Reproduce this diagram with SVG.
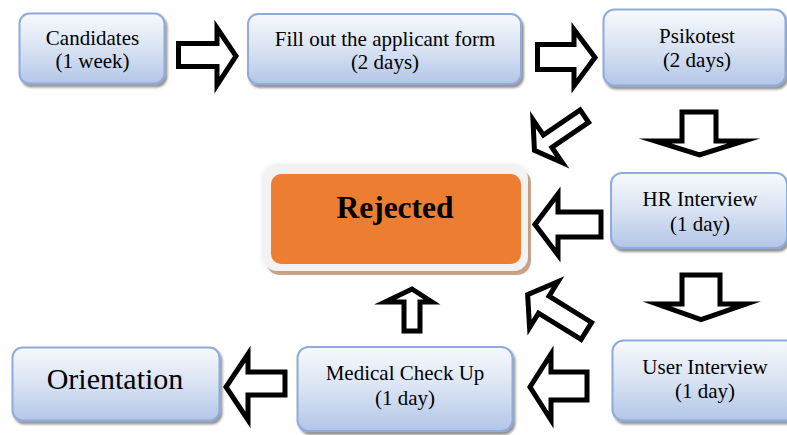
<svg xmlns="http://www.w3.org/2000/svg" width="787" height="435" viewBox="0 0 787 435">
<defs>
<linearGradient id="boxGrad" x1="0" y1="0" x2="0" y2="1">
<stop offset="0" stop-color="#F7F9FD"/>
<stop offset="0.45" stop-color="#DCE5F4"/>
<stop offset="1" stop-color="#B3C6E7"/>
</linearGradient>
<filter id="shadow" x="-10%" y="-10%" width="125%" height="130%">
<feDropShadow dx="2" dy="3" stdDeviation="1.2" flood-color="#404040" flood-opacity="0.55"/>
</filter>
<filter id="glow" x="-10%" y="-10%" width="125%" height="130%">
<feDropShadow dx="0" dy="0" stdDeviation="2" flood-color="#000000" flood-opacity="0.12"/>
</filter>
<style>
.box{fill:url(#boxGrad);stroke:#8FAADC;stroke-width:2;filter:url(#shadow);}
text{font-family:'Liberation Serif','DejaVu Serif','Times New Roman',serif;fill:#000;text-anchor:middle;}
.lbl{font-size:21px;}
.big{font-size:30px;}
.rej{font-size:31.5px;font-weight:bold;}
.arr{fill:#FFFFFF;stroke:#000;stroke-width:5;stroke-linejoin:miter;stroke-miterlimit:10;}
</style>
</defs>

<g id="connectors">
<path class="arr" d="M178.5,43.5 H217 V28 L236,56 L217,85 V66.5 H178.5 Z"/>
<path class="arr" d="M537.5,44.5 H574 V29.5 L595,57.5 L574,86 V69.5 H537.5 Z"/>
<path class="arr" d="M682,112 H716 V141 H744 L699.5,155 L655,141 H682 Z"/>
<path class="arr" d="M682,275 H720 V304 H746 L701,319.5 L657,304 H682 Z"/>
<path class="arr" d="M601,212 H558 V194 L535,224.5 L558,255 V237 H601 Z"/>
<path class="arr" d="M587,372 H551 V354 L530,387 L551,420 V400 H587 Z"/>
<path class="arr" d="M285,372 H248 V354 L226,387 L248,420 V395 H285 Z"/>
<path class="arr" d="M404,331 V302 H385 L412,289 L432,302 H420 V331 Z"/>
<path class="arr" transform="translate(586,115) rotate(145.6)" d="M2,-7.5 H46.5 V-26 L62.5,0 L46.5,26 V7.5 H2 Z"/>
<path class="arr" transform="translate(588,332) rotate(211.76)" d="M2,-10 H52 V-27 L71,0 L52,27 V10 H2 Z"/>
</g>

<g id="candidates">
<rect class="box" x="19.5" y="13.5" width="145" height="70" rx="10"/>
<text class="lbl" x="92.5" y="44.5">Candidates</text>
<text class="lbl" x="92.5" y="67.5">(1 week)</text>
</g>

<g id="fill-form">
<rect class="box" x="248" y="14" width="273" height="70" rx="10"/>
<text class="lbl" x="385" y="45.5">Fill out the applicant form</text>
<text class="lbl" x="385" y="68.5">(2 days)</text>
</g>

<g id="psikotest">
<rect class="box" x="603.5" y="9.5" width="182" height="76" rx="11"/>
<text class="lbl" x="697" y="42.5">Psikotest</text>
<text class="lbl" x="697" y="66.5">(2 days)</text>
</g>

<g id="hr-interview">
<rect class="box" x="611" y="173" width="176" height="75" rx="11"/>
<text class="lbl" x="700" y="206">HR Interview</text>
<text class="lbl" x="700" y="230.5">(1 day)</text>
</g>

<g id="user-interview">
<rect class="box" x="612.5" y="340.5" width="185" height="80" rx="11"/>
<text class="lbl" x="705" y="374">User Interview</text>
<text class="lbl" x="705" y="397.5">(1 day)</text>
</g>

<g id="medical">
<rect class="box" x="297.5" y="347" width="215" height="84" rx="11"/>
<text class="lbl" x="405" y="380">Medical Check Up</text>
<text class="lbl" x="405" y="405">(1 day)</text>
</g>

<g id="orientation">
<rect class="box" x="12.5" y="347.5" width="207" height="73" rx="10"/>
<text class="big" x="115" y="389">Orientation</text>
</g>

<g id="rejected">
<rect x="266" y="169" width="265" height="106" rx="14" fill="#C9A68B"/>
<rect x="263" y="165" width="265" height="106" rx="14" fill="#F2F2F2" filter="url(#glow)"/>
<rect x="271" y="174" width="250" height="90" rx="10" fill="#ED7D31"/>
<text class="rej" x="395" y="217.5">Rejected</text>
</g>
</svg>
